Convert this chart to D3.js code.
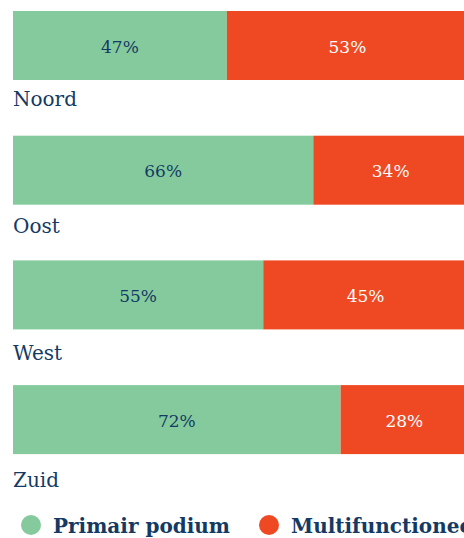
<!DOCTYPE html>
<html>
<head>
<meta charset="utf-8">
<script src="https://cdn.jsdelivr.net/npm/d3@7"></script>
<style>
  body { margin: 0; background: #fff; overflow: hidden; }
  svg { display: block; }
  .serif { font-family: "DejaVu Serif", "Liberation Serif", serif; }
</style>
</head>
<body>
<div id="chart"></div>
<script>
'use strict';

const regions = ["Noord", "Oost", "West", "Zuid"];
const primair = [47, 66, 55, 72];
const multi = [53, 34, 45, 28];
const seriesNames = ["Primair podium", "Multifunctioneel"];

const msm = {
  width: 464,
  height: 538,
  left: 13,
  barWidth: 455,
  top: 11,
  step: 124.7,
  barHeight: 69
}

const colors = { green: "#85ca9d", red: "#ef4923", navy: "#143a64" };

const svg = d3.select('#chart')
  .append('svg')
  .attr('width', msm.width)
  .attr('height', msm.height);

const xScale = d3.scaleLinear()
  .domain([0, 100])
  .range([msm.left, msm.left + msm.barWidth]);

const yScale = d3.scaleBand()
  .domain(regions)
  .range([msm.top, msm.top + regions.length * msm.step])
  .padding(0);

// region names sit a bit further apart than the bars do
const labelScale = d3.scalePoint()
  .domain(regions)
  .range([106, 486.5]);

const rows = regions.map((r, i) => ({ region: r, a: primair[i], b: multi[i] }));

const g = svg.selectAll('.row')
  .data(rows)
  .enter()
  .append('g')
  .attr('class', 'row')
  .attr('transform', d => 'translate(0,' + yScale(d.region) + ')');

// green part
g.append('rect')
  .attr('x', xScale(0))
  .attr('y', 0)
  .attr('width', d => xScale(d.a) - xScale(0))
  .attr('height', msm.barHeight)
  .attr('fill', colors.green);

// red part
g.append('rect')
  .attr('x', d => xScale(d.a))
  .attr('y', 0)
  .attr('width', d => xScale(d.a + d.b) - xScale(d.a))
  .attr('height', msm.barHeight)
  .attr('fill', colors.red);

// value labels
g.append('text')
  .attr('class', 'serif')
  .attr('x', d => (xScale(0) + xScale(d.a)) / 2)
  .attr('y', msm.barHeight / 2 + 7)
  .attr('text-anchor', 'middle')
  .style('font-size', '17px')
  .attr('fill', colors.navy)
  .text(d => d.a + '%');

g.append('text')
  .attr('class', 'serif')
  .attr('x', d => (xScale(d.a) + xScale(d.a + d.b)) / 2)
  .attr('y', msm.barHeight / 2 + 7)
  .attr('text-anchor', 'middle')
  .style('font-size', '17px')
  .attr('fill', '#fff')
  .text(d => d.b + '%');

// region names under the bars
svg.selectAll('.region')
  .data(regions)
  .enter()
  .append('text')
  .attr('class', 'serif region')
  .attr('x', msm.left)
  .attr('y', d => labelScale(d))
  .style('font-size', '20px')
  .attr('fill', colors.navy)
  .text(d => d);

// legend
const legend = svg.append('g').attr('transform', 'translate(0, 525)');
const legendX = [31, 269];
const legendColors = [colors.green, colors.red];

seriesNames.forEach((name, i) => {
  legend.append('circle')
    .attr('cx', legendX[i])
    .attr('cy', 0)
    .attr('r', 10)
    .attr('fill', legendColors[i]);
  legend.append('text')
    .attr('class', 'serif')
    .attr('x', legendX[i] + 22)
    .attr('y', 8)
    .style('font-weight', 'bold')
    .style('font-size', '20px')
    .attr('fill', colors.navy)
    .text(name);
});
</script>
</body>
</html>
